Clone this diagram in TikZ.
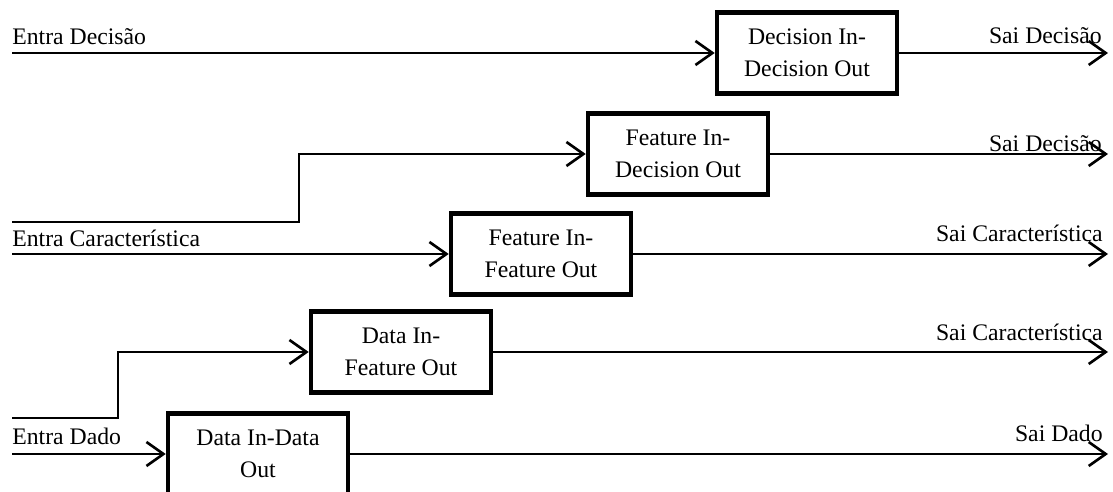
\documentclass[tikz,border=0pt]{standalone}
\usepackage{fontspec}
\setmainfont{Liberation Serif}
\usepackage{tikz}
\usepackage{xcolor}
\usetikzlibrary{arrows.meta}
\tikzstyle{block} = [rectangle, minimum width=3.6cm, minimum height=1.62cm, text centered, align=center, draw=black, line width=2.6pt, font=\fontsize{13.5pt}{18.2pt}\selectfont]
\tikzstyle{label} = [inner sep=0pt, font=\fontsize{13.5pt}{18.2pt}\selectfont]
\tikzstyle{arrow} = [line width=1.5pt,-{Straight Barb[length=0.34cm, width=0.48cm, line width=1.5pt]}]
\tikzstyle{line} = [line width=1.5pt,-]

\begin{document}
\begin{tikzpicture}[x=0.02cm, y=-0.02cm]
    \useasboundingbox (0,0) rectangle (1113,492);
    \node (dec_dec) [block] at (807,53) {Decision In-\\Decision Out};
    \node (feat_dec) [block] at (678,154) {Feature In-\\Decision Out};
    \node (feat_feat) [block] at (541,254) {Feature In-\\Feature Out};
    \node (data_feat) [block] at (401,352) {Data In-\\Feature Out};
    \node (data_data) [block] at (258,454) {Data In-Data\\Out};

    \coordinate (in_dec) at (12,53);
    \coordinate (in_car_up) at (12,222);
    \coordinate (in_car) at (12,254);
    \coordinate (in_dado_up) at (12,418);
    \coordinate (in_dado) at (12,454);
    \coordinate (bend_car) at (299,154);
    \coordinate (bend_dado) at (118,352);
    \coordinate (out_dec) at (1108,53);
    \coordinate (out_dec2) at (1108,154);
    \coordinate (out_car) at (1108,254);
    \coordinate (out_car2) at (1108,352);
    \coordinate (out_dado) at (1108,454);

    \node (lbl_in_dec) [label, anchor=base west] at (12,45) {Entra Decisão};
    \node (lbl_in_car) [label, anchor=base west] at (12,247) {Entra Característica};
    \node (lbl_in_dado) [label, anchor=base west] at (12,445) {Entra Dado};
    \node (lbl_out_dec) [label, anchor=base east] at (1102,44) {Sai Decisão};
    \node (lbl_out_dec2) [label, anchor=base east] at (1102,152) {Sai Decisão};
    \node (lbl_out_car) [label, anchor=base east] at (1103,242) {Sai Característica};
    \node (lbl_out_car2) [label, anchor=base east] at (1103,341) {Sai Característica};
    \node (lbl_out_dado) [label, anchor=base east] at (1103,442) {Sai Dado};

    \draw [arrow] (in_dec) -- (dec_dec);
    \draw [arrow] (dec_dec) -- (out_dec);
    \draw [arrow] (in_car_up) -| (bend_car) -- (feat_dec);
    \draw [arrow] (feat_dec) -- (out_dec2);
    \draw [arrow] (in_car) -- (feat_feat);
    \draw [arrow] (feat_feat) -- (out_car);
    \draw [arrow] (in_dado_up) -| (bend_dado) -- (data_feat);
    \draw [arrow] (data_feat) -- (out_car2);
    \draw [arrow] (in_dado) -- (data_data);
    \draw [arrow] (data_data) -- (out_dado);
\end{tikzpicture}
\end{document}
